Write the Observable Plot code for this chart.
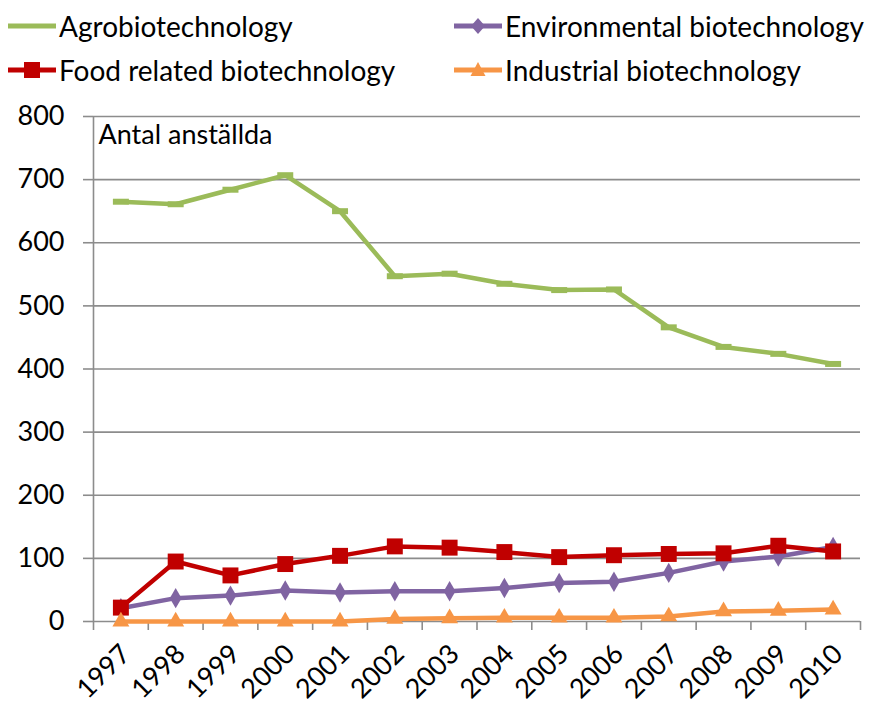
<!DOCTYPE html>
<html>
<head>
<meta charset="utf-8">
<script src="https://cdn.jsdelivr.net/npm/d3@7"></script>
<script src="https://cdn.jsdelivr.net/npm/@observablehq/plot@0.6"></script>
<style>
  html, body { margin: 0; padding: 0; background: #fff; }
  body { width: 873px; height: 704px; overflow: hidden; font-family: Lato, "Liberation Sans", sans-serif; }
  #legend { position: relative; width: 873px; height: 90px; }
  .item { position: absolute; display: flex; align-items: center; font-size: 28px; color: #000; white-space: nowrap; }
  .item svg { margin-right: 3px; }
  #chart svg { overflow: visible; }
</style>
</head>
<body>
<div id="legend"></div>
<div id="chart"></div>
<script>
const years = [1997, 1998, 1999, 2000, 2001, 2002, 2003, 2004, 2005, 2006, 2007, 2008, 2009, 2010];
const agro = [665, 661, 684, 707, 650, 547, 551, 535, 525, 526, 466, 435, 424, 408];
const environmental = [21, 37, 41, 49, 46, 48, 48, 53, 61, 63, 77, 95, 103, 118];
const food = [22, 95, 73, 91, 104, 119, 117, 110, 102, 105, 107, 108, 120, 111];
const industrial = [0, 0, 0, 0, 0, 4, 5, 6, 6, 6, 8, 16, 17, 19];
const seriesNames = ["Agrobiotechnology", "Environmental biotechnology", "Food related biotechnology", "Industrial biotechnology"];
const colors = ["#9BBB59", "#8064A2", "#C00000", "#F79646"];
const yTicks = [0, 100, 200, 300, 400, 500, 600, 700, 800];
const yLabel = "Antal anställda";

const dash = { draw(ctx) { ctx.rect(-8, -3, 16, 6); } };
const symbols = [dash, "diamond", "square", "triangle"];
const radii = [5, 6.2, 9, 6.3];
const allSeries = [agro, environmental, food, industrial];

const rows = [];
allSeries.forEach((vals, i) => vals.forEach((v, j) => rows.push({ series: seriesNames[i], idx: i, year: years[j], value: v })));

// Legend
const legendPos = [[8, 26], [454, 26], [8, 70], [454, 70]];
const legend = document.getElementById("legend");
const legendMarkers = [
  c => ``,
  c => `<path d="M24,-8 L31,0 L24,8 L17,0 Z" fill="${c}"/>`,
  c => `<rect x="16" y="-8" width="16" height="16" fill="${c}"/>`,
  c => `<path d="M24,-8 L31.5,6 L16.5,6 Z" fill="${c}"/>`
];
seriesNames.forEach((name, i) => {
  const div = document.createElement("div");
  div.className = "item";
  div.style.left = legendPos[i][0] + "px";
  div.style.top = (legendPos[i][1] - 20) + "px";
  div.style.height = "40px";
  div.innerHTML = `<svg width="48" height="40" viewBox="0 -20 48 40"><line x1="0" x2="48" y1="0" y2="0" stroke="${colors[i]}" stroke-width="5"/>${legendMarkers[i](colors[i])}</svg><span>${name}</span>`;
  legend.appendChild(div);
});

const boundaries = years.map(y => y - 0.5).concat([years[years.length - 1] + 0.5]);
const grid = "#8C8C8C";

const marks = [
  Plot.gridY(yTicks.filter(d => d > 0), { stroke: grid, strokeOpacity: 1, strokeWidth: 1.6 }),
  Plot.ruleX([boundaries[0]], { stroke: grid, strokeWidth: 1.6 }),
  Plot.ruleY([0], { stroke: grid, strokeWidth: 1.6 }),
  Plot.axisY({ ticks: yTicks, tickSize: 10, tickPadding: 19, stroke: grid, strokeWidth: 1.6, fontSize: 27, fill: "#000", label: null, tickFormat: d => String(d) }),
  Plot.axisX({ ticks: boundaries, tickSize: 9, stroke: grid, strokeWidth: 1.6, tickFormat: () => "", label: null }),
  Plot.axisX({ ticks: years, tickSize: 0, tickPadding: 12, tickRotate: -45, fontSize: 27, fill: "#000", label: null, dx: 5, dy: 16, tickFormat: d => String(d) }),
  Plot.text([yLabel], { frameAnchor: "top-left", dx: 5, dy: 8, fontSize: 27, fill: "#000", textAnchor: "start", lineAnchor: "top" })
];
allSeries.forEach((vals, i) => {
  const data = rows.filter(r => r.idx === i);
  marks.push(Plot.line(data, { x: "year", y: "value", stroke: colors[i], strokeWidth: 4.5 }));
  marks.push(Plot.dot(data, { x: "year", y: "value", symbol: () => symbols[i], r: radii[i], fill: colors[i], stroke: "none" }));
});

const chart = Plot.plot({
  width: 873,
  height: 614,
  marginTop: 26,
  marginBottom: 83,
  marginLeft: 93,
  marginRight: 13,
  style: { fontFamily: "Lato, 'Liberation Sans', sans-serif", fontSize: "27px", background: "#fff", color: "#000", overflow: "visible" },
  x: { type: "linear", domain: [boundaries[0], boundaries[boundaries.length - 1]] },
  y: { domain: [0, 800] },
  symbol: { type: "identity" },
  marks
});
document.getElementById("chart").appendChild(chart);
</script>
</body>
</html>
